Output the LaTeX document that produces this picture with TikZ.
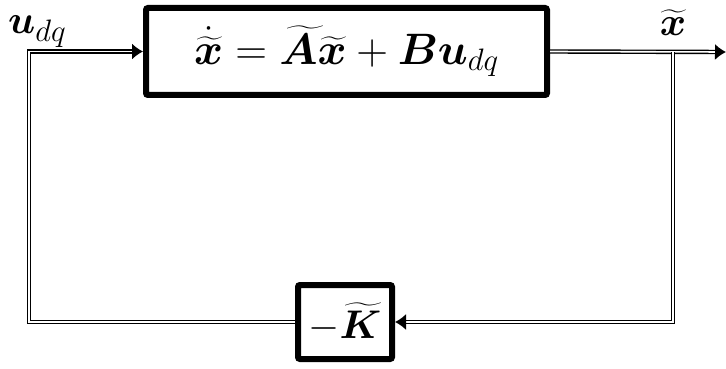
\RequirePackage{fix-cm}
\documentclass[tikz,border=0pt]{standalone}
\usepackage{amsmath,bm}
\usetikzlibrary{arrows.meta,positioning}
\newcommand{\dqsub}{\mbox{\fontsize{31}{34}\selectfont$dq$}}

\begin{document}
\begin{tikzpicture}[x=1pt,y=-1pt, every node/.style={font=\fontsize{40}{44}\selectfont}, blk/.style={draw,line width=6pt,rounded corners=2pt,fill=white}, wire/.style={double,line width=1.4pt,double distance=1.6pt}, arr/.style={wire,-{Latex[length=11pt,width=16pt]}}]
\useasboundingbox (0,0) rectangle (726,369);
\node[blk,minimum width=401pt,minimum height=87pt,font=\fontsize{44}{48}\selectfont] (plant) at (346.5,51.5) {$\dot{\widetilde{\bm{x}}}=\widetilde{\bm{A}}\widetilde{\bm{x}}+\bm{B}\bm{u}_{\dqsub}$};
\node[blk,minimum width=94pt,minimum height=74pt,inner sep=1pt] (gain) at (345,322) {$-\widetilde{\bm{K}}$};
\node[anchor=base west,inner sep=0pt] (udq) at (8,34) {$\bm{u}_{\dqsub}$};
\node[anchor=base,inner sep=0pt] (xt) at (673,36) {$\widetilde{\bm{x}}$};
\coordinate (out) at (726,52);
\coordinate (split) at (673,52);
\coordinate (fb) at (673,322);
\coordinate (ret) at (29,322);
\coordinate (in) at (29,51.5);
\draw[arr] (plant.east)--(out);\draw[arr] (split)--(fb)--(gain.east);\draw[arr] (gain.west)--(ret)--(in)--(plant.west);
\end{tikzpicture}
\end{document}
